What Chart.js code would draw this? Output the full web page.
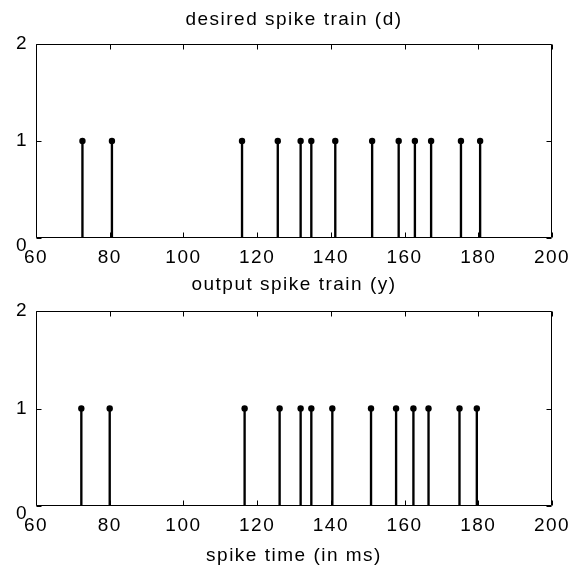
<!DOCTYPE html>
<html><head><meta charset="utf-8">
<script src="https://cdn.jsdelivr.net/npm/chart.js@4/dist/chart.umd.min.js"></script>
<style>
html,body{margin:0;padding:0;background:#fff;width:582px;height:568px;overflow:hidden;}
canvas{position:absolute;left:0;display:block;}
#c1{top:0;}
#c2{top:270px;}
</style></head><body>
<canvas id="c1" width="582" height="270"></canvas>
<canvas id="c2" width="582" height="298"></canvas>
<script>
// ---- data ----
const xTickValues = [60, 80, 100, 120, 140, 160, 180, 200];
const yTickValues = [0, 1, 2];
const desiredTimes = [72.6, 80.6, 115.9, 125.6, 131.8, 134.7, 141.2, 151.2, 158.4, 162.8, 167.2, 175.3, 180.5];
const desiredValues = [1, 1, 1, 1, 1, 1, 1, 1, 1, 1, 1, 1, 1];
const outputTimes = [72.3, 80.0, 116.6, 126.1, 131.8, 134.7, 140.4, 150.9, 157.7, 162.4, 166.5, 174.9, 179.6];
const outputValues = [1, 1, 1, 1, 1, 1, 1, 1, 1, 1, 1, 1, 1];
const titleTop = 'desired spike train (d)';
const titleBottom = 'output spike train (y)';
const xAxisLabel = 'spike time (in ms)';

const FONT = "'Liberation Sans', Arial, sans-serif";
const font = {family: FONT, size: 19, weight: 'normal', lineHeight: 1.2};
const fontLow = {family: FONT, size: 19, weight: 'normal', lineHeight: 0.85};

const matlabBox = {
  id: 'matlabBox',
  beforeDraw(chart) { chart.ctx.letterSpacing = '1.5px'; },
  afterDatasetsDraw(chart) {
    const {ctx, chartArea: a, scales: {x, y}} = chart;
    const L = Math.round(a.left) + 0.5, R = Math.round(a.right) - 0.5;
    const T = Math.round(a.top) + 0.5, B = Math.round(a.bottom) - 0.5;
    ctx.save();
    ctx.strokeStyle = '#000';
    ctx.lineWidth = 1;
    ctx.beginPath();
    ctx.rect(L, T, R - L, B - T);
    const tl = 5;
    x.ticks.forEach(t => {
      const px = Math.round(x.getPixelForValue(t.value)) + 0.5;
      ctx.moveTo(px, T); ctx.lineTo(px, T + tl);
      ctx.moveTo(px, B); ctx.lineTo(px, B - tl);
    });
    y.ticks.forEach(t => {
      const py = Math.round(y.getPixelForValue(t.value)) + 0.5;
      ctx.moveTo(L, py); ctx.lineTo(L + tl, py);
      ctx.moveTo(R, py); ctx.lineTo(R - tl, py);
    });
    ctx.stroke();
    ctx.restore();
  }
};

function makeChart(id, times, values, title, titlePadTop, topHeight, xHeight, tickPad, showXLabel) {
  const pts = times.map((t, i) => ({x: t, y: values[i]}));
  return new Chart(document.getElementById(id), {
    type: 'bar',
    data: {
      datasets: [
        {type: 'scatter', data: pts, pointRadius: 3.2, pointBackgroundColor: '#000', pointBorderWidth: 0, order: 0},
        {type: 'bar', data: pts, backgroundColor: '#000', barThickness: 1.7, order: 1}
      ]
    },
    options: {
      responsive: false, animation: false, devicePixelRatio: 1,
      layout: {padding: {left: 0, right: 30, top: 0, bottom: 0}},
      plugins: {
        legend: {display: false},
        tooltip: {enabled: false},
        title: {display: false}
      },
      scales: {
        x: {
          type: 'linear', min: 60, max: 200, offset: false,
          afterBuildTicks(s) { s.ticks = xTickValues.map(v => ({value: v})); },
          grid: {display: false, drawTicks: false},
          border: {display: false},
          ticks: {color: '#000', font: font, padding: tickPad, maxRotation: 0, autoSkip: false},
          title: {display: showXLabel, text: xAxisLabel, color: '#000', font: font, padding: {top: 0, bottom: 1}},
          afterFit(s) { s.height = xHeight; }
        },
        xTop: {
          type: 'linear', position: 'top', min: 60, max: 200, offset: false,
          grid: {display: false, drawTicks: false},
          border: {display: false},
          ticks: {display: false},
          title: {display: true, text: title, color: '#000', font: font, padding: {top: titlePadTop, bottom: 0}},
          afterFit(s) { s.height = topHeight; }
        },
        y: {
          min: 0, max: 2,
          afterBuildTicks(s) { s.ticks = yTickValues.map(v => ({value: v})); },
          grid: {display: false, drawTicks: false},
          border: {display: false},
          ticks: {
            color: '#000', padding: 8, autoSkip: false,
            font: c => (c.tick && c.tick.value === 0) ? fontLow : font,
            callback: v => v === 0 ? ['', String(v)] : String(v)
          },
          afterFit(s) { s.width = 36; }
        }
      }
    },
    plugins: [matlabBox]
  });
}

makeChart('c1', desiredTimes, desiredValues, titleTop, 8.7, 44, 32, 8.5, false);
makeChart('c2', outputTimes, outputValues, titleBottom, 3.7, 41, 62, 8, true);
</script>
</body></html>
